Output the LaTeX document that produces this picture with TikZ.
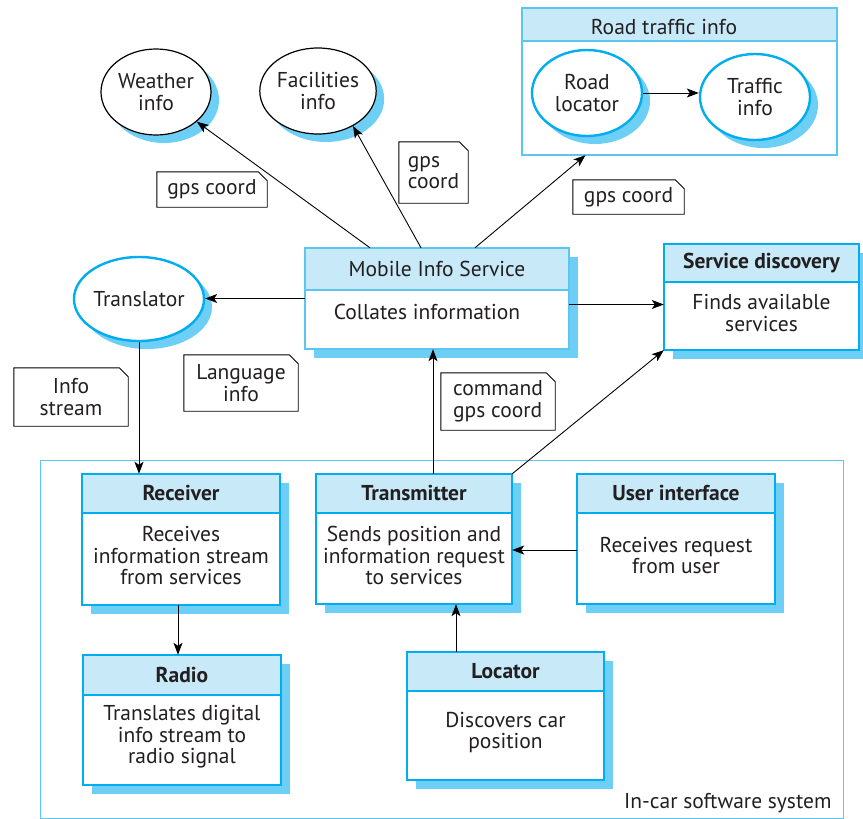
\documentclass[tikz,border=0pt]{standalone}
\usepackage{fontspec}
\setmainfont{PT Sans}
\usetikzlibrary{shapes.geometric,shadows,arrows.meta,calc,fit}
\definecolor{hdr}{HTML}{C7E9F8}
\definecolor{shd}{HTML}{6DCFF6}
\definecolor{cyn}{HTML}{00AEEF}
\definecolor{lcyn}{HTML}{5CC6F0}
\definecolor{txt}{HTML}{231F20}
\newcommand\classbox[9]{%
  \fill[shd] (#2+9,#3+9) rectangle (#4+9,#5+9);
  \node[fit={(#2,#3) (#4,#5)}, inner sep=0pt] (#1) {};
  \fill[white] (#2,#3) rectangle (#4,#5);
  \fill[hdr] (#2,#3) rectangle (#4,#6);
  \draw[#9] (#2,#6) -- (#4,#6);
  \draw[#9] (#2,#3) rectangle (#4,#5);
  \node at ($(#2,#3)!0.5!(#4,#6)$) {#7};
  \node[align=center, yshift=3pt] at ($(#2,#6)!0.5!(#4,#5)$) {#8};
}
\newcommand\dogear[1]{\draw[noteline] (#1.north west) -- ([xshift=-9pt]#1.north east) -- ([yshift=-9pt]#1.north east) -- (#1.south east) -- (#1.south west) -- cycle;}
\begin{document}
\begin{tikzpicture}[x=1pt,y=-1pt,
  every node/.style={text=txt},
  font=\fontsize{21.5}{21.5}\selectfont,
  arr/.style={draw=black, line width=0.9pt, -{Stealth[length=12pt,width=9pt,inset=3pt]}},
  ell/.style={ellipse, fill=white, inner sep=0pt, minimum width=110pt, minimum height=86pt, align=center, drop shadow={shadow xshift=8pt,shadow yshift=-8pt,fill=shd,opacity=1}},
  bell/.style={ell, draw=black, line width=1.2pt},
  cell/.style={ell, draw=cyn, line width=2.4pt},
  note/.style={inner sep=0pt, align=left},
  noteline/.style={draw=black, line width=0.9pt},
  thickbox/.style={draw=cyn, line width=2.4pt},
  thinbox/.style={draw=lcyn, line width=1.2pt}]
\useasboundingbox (0,0) rectangle (863,819);
% container
\node[fit={(40,460) (843,818)}, inner sep=0pt, draw=lcyn, line width=1pt] (car) {};
\node[anchor=base east] at (835,808) {In-car software system};
% ellipses
\node[bell] (wea) at (156,92) {Weather\\info};
\node[bell] (fac) at (318,91) {Facilities\\info};
\node[cell, minimum width=130pt, minimum height=84pt] (tra) at (139,299) {Translator};
% road traffic box
\node[fit={(522,8) (837,155)}, inner sep=0pt] (rt) {};
\fill[white] (522,8) rectangle (837,155);
\fill[hdr] (522,8) rectangle (837,41);
\draw[thinbox] (522,41) -- (837,41);
\draw[thinbox] (522,8) rectangle (837,155);
\node at (664,27) {Road traffic info};
\node[cell] (rl) at (587,93) {Road\\locator};
\node[cell] (ti) at (755,97) {Traffic\\info};
% class boxes
\classbox{mis}{305}{248}{569}{349}{290}{Mobile Info Service}{}{thinbox}
\node at (427,312) {Collates information};
\classbox{sd}{664}{244}{859}{350}{282}{\bfseries Service discovery}{Finds available\\services}{thickbox}
\classbox{rec}{82}{474}{280}{605}{513}{\bfseries Receiver}{Receives\\information stream\\from services}{thickbox}
\classbox{tx}{316}{474}{512}{604}{513}{\bfseries Transmitter}{Sends position and\\information request\\to services}{thickbox}
\classbox{ui}{577}{474}{775}{604}{513}{\bfseries User interface}{Receives request\\from user}{thickbox}
\classbox{rad}{83}{655}{281}{785}{695}{\bfseries Radio}{Translates digital\\info stream to\\radio signal}{thickbox}
\classbox{loc}{407}{652}{604}{780}{691}{\bfseries Locator}{Discovers car\\position}{thickbox}
% notes
\node[note, minimum width=110pt, minimum height=35pt] (n1) at (212,189.5) {gps coord};
\node[note, minimum width=69pt, minimum height=61pt] (n2) at (433.5,172.5) {gps\\coord};
\node[note, minimum width=111pt, minimum height=34pt] (n3) at (628.5,197) {gps coord};
\node[note, align=center, minimum width=114pt, minimum height=58pt] (n4) at (71,397) {Info\\stream};
\node[note, align=center, minimum width=114pt, minimum height=56pt] (n5) at (241,383) {Language\\info};
\node[note, minimum width=114pt, minimum height=57pt] (n6) at (498,401.5) {command\\gps coord};
\dogear{n1}\dogear{n2}\dogear{n3}\dogear{n4}\dogear{n5}\dogear{n6}
% connectors
\draw[arr] ([xshift=-67pt]mis.north) -- (wea);
\draw[arr] ([xshift=-16pt]mis.north) -- (fac.-45);
\draw[arr] ([xshift=38pt]mis.north) -- ([xshift=-94pt]rt.south);
\draw[arr] (mis.west) -- (mis.west -| tra.east);
\draw[arr] ([yshift=-6pt]mis.east) -- ([yshift=-6pt]mis.east -| sd.west);
\draw[arr] (tra.south) -- (tra.south |- rec.north);
\draw[arr] ([xshift=19pt]tx.north) -- ([xshift=19pt]tx.north |- mis.south);
\draw[arr] (tx.north east) -- (sd.south west);
\draw[arr] ([yshift=-11pt]ui.west) -- ([yshift=-11pt]ui.west -| tx.east);
\draw[arr] ([xshift=-3pt]rec.south) -- ([xshift=-3pt]rec.south |- rad.north);
\draw[arr] ([xshift=-49.5pt]loc.north) -- ([xshift=-49.5pt]loc.north |- tx.south);
\draw[arr] (rl.east) -- (rl.east -| ti.west);
\end{tikzpicture}
\end{document}
